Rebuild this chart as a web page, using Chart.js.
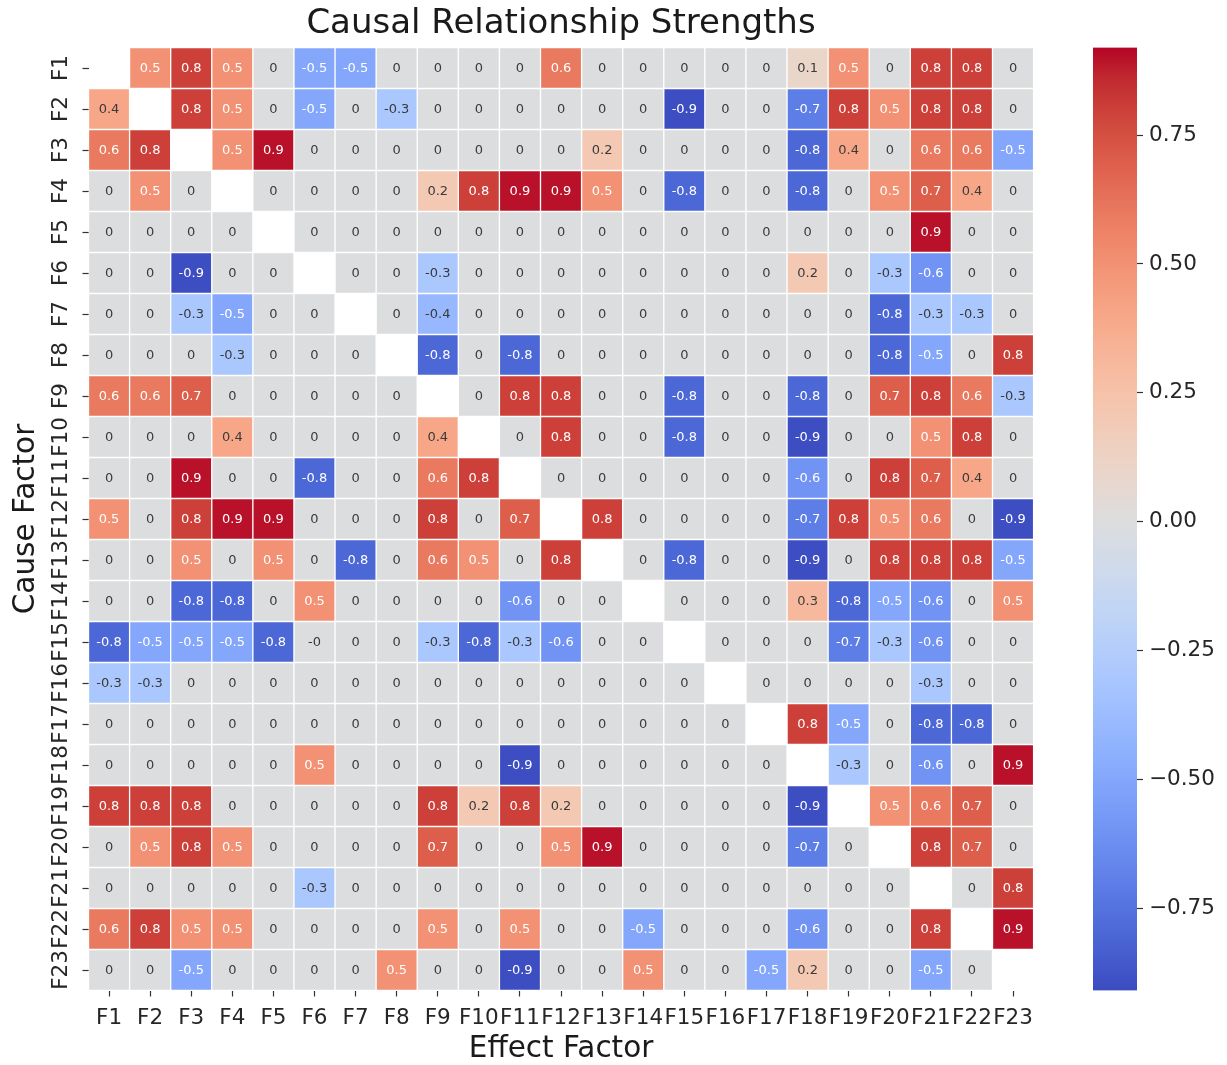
<!DOCTYPE html>
<html>
<head>
<meta charset="utf-8">
<title>Causal Relationship Strengths</title>
<script src="https://cdn.jsdelivr.net/npm/chart.js@4.4.1/dist/chart.umd.min.js"></script>
<style>
  html, body { margin: 0; padding: 0; background: #ffffff; }
  #wrap { position: relative; width: 1227px; height: 1065px; overflow: hidden; background: #ffffff; }
  #heat { position: absolute; left: 0; top: 0; }
  #scaleBar { position: absolute; left: 1085px; top: 0; }
</style>
</head>
<body>
<div id="wrap">
  <canvas id="heat" width="1122" height="1065"></canvas>
  <canvas id="scaleBar" width="142" height="1065"></canvas>
</div>
<script>
// Factor names used for both the cause (rows) and effect (columns) axes
const factors = ['F1','F2','F3','F4','F5','F6','F7','F8','F9','F10','F11','F12',
                 'F13','F14','F15','F16','F17','F18','F19','F20','F21','F22','F23'];

// Causal strength of each cause factor on every effect factor (null = self)
const causeF1  = [null, 0.5, 0.8, 0.5, 0, -0.5, -0.5, 0, 0, 0, 0, 0.6, 0, 0, 0, 0, 0, 0.1, 0.5, 0, 0.8, 0.8, 0];
const causeF2  = [0.4, null, 0.8, 0.5, 0, -0.5, 0, -0.3, 0, 0, 0, 0, 0, 0, -0.9, 0, 0, -0.7, 0.8, 0.5, 0.8, 0.8, 0];
const causeF3  = [0.6, 0.8, null, 0.5, 0.9, 0, 0, 0, 0, 0, 0, 0, 0.2, 0, 0, 0, 0, -0.8, 0.4, 0, 0.6, 0.6, -0.5];
const causeF4  = [0, 0.5, 0, null, 0, 0, 0, 0, 0.2, 0.8, 0.9, 0.9, 0.5, 0, -0.8, 0, 0, -0.8, 0, 0.5, 0.7, 0.4, 0];
const causeF5  = [0, 0, 0, 0, null, 0, 0, 0, 0, 0, 0, 0, 0, 0, 0, 0, 0, 0, 0, 0, 0.9, 0, 0];
const causeF6  = [0, 0, -0.9, 0, 0, null, 0, 0, -0.3, 0, 0, 0, 0, 0, 0, 0, 0, 0.2, 0, -0.3, -0.6, 0, 0];
const causeF7  = [0, 0, -0.3, -0.5, 0, 0, null, 0, -0.4, 0, 0, 0, 0, 0, 0, 0, 0, 0, 0, -0.8, -0.3, -0.3, 0];
const causeF8  = [0, 0, 0, -0.3, 0, 0, 0, null, -0.8, 0, -0.8, 0, 0, 0, 0, 0, 0, 0, 0, -0.8, -0.5, 0, 0.8];
const causeF9  = [0.6, 0.6, 0.7, 0, 0, 0, 0, 0, null, 0, 0.8, 0.8, 0, 0, -0.8, 0, 0, -0.8, 0, 0.7, 0.8, 0.6, -0.3];
const causeF10 = [0, 0, 0, 0.4, 0, 0, 0, 0, 0.4, null, 0, 0.8, 0, 0, -0.8, 0, 0, -0.9, 0, 0, 0.5, 0.8, 0];
const causeF11 = [0, 0, 0.9, 0, 0, -0.8, 0, 0, 0.6, 0.8, null, 0, 0, 0, 0, 0, 0, -0.6, 0, 0.8, 0.7, 0.4, 0];
const causeF12 = [0.5, 0, 0.8, 0.9, 0.9, 0, 0, 0, 0.8, 0, 0.7, null, 0.8, 0, 0, 0, 0, -0.7, 0.8, 0.5, 0.6, 0, -0.9];
const causeF13 = [0, 0, 0.5, 0, 0.5, 0, -0.8, 0, 0.6, 0.5, 0, 0.8, null, 0, -0.8, 0, 0, -0.9, 0, 0.8, 0.8, 0.8, -0.5];
const causeF14 = [0, 0, -0.8, -0.8, 0, 0.5, 0, 0, 0, 0, -0.6, 0, 0, null, 0, 0, 0, 0.3, -0.8, -0.5, -0.6, 0, 0.5];
const causeF15 = [-0.8, -0.5, -0.5, -0.5, -0.8, -0, 0, 0, -0.3, -0.8, -0.3, -0.6, 0, 0, null, 0, 0, 0, -0.7, -0.3, -0.6, 0, 0];
const causeF16 = [-0.3, -0.3, 0, 0, 0, 0, 0, 0, 0, 0, 0, 0, 0, 0, 0, null, 0, 0, 0, 0, -0.3, 0, 0];
const causeF17 = [0, 0, 0, 0, 0, 0, 0, 0, 0, 0, 0, 0, 0, 0, 0, 0, null, 0.8, -0.5, 0, -0.8, -0.8, 0];
const causeF18 = [0, 0, 0, 0, 0, 0.5, 0, 0, 0, 0, -0.9, 0, 0, 0, 0, 0, 0, null, -0.3, 0, -0.6, 0, 0.9];
const causeF19 = [0.8, 0.8, 0.8, 0, 0, 0, 0, 0, 0.8, 0.2, 0.8, 0.2, 0, 0, 0, 0, 0, -0.9, null, 0.5, 0.6, 0.7, 0];
const causeF20 = [0, 0.5, 0.8, 0.5, 0, 0, 0, 0, 0.7, 0, 0, 0.5, 0.9, 0, 0, 0, 0, -0.7, 0, null, 0.8, 0.7, 0];
const causeF21 = [0, 0, 0, 0, 0, -0.3, 0, 0, 0, 0, 0, 0, 0, 0, 0, 0, 0, 0, 0, 0, null, 0, 0.8];
const causeF22 = [0.6, 0.8, 0.5, 0.5, 0, 0, 0, 0, 0.5, 0, 0.5, 0, 0, -0.5, 0, 0, 0, -0.6, 0, 0, 0.8, null, 0.9];
const causeF23 = [0, 0, -0.5, 0, 0, 0, 0, 0.5, 0, 0, -0.9, 0, 0, 0.5, 0, 0, -0.5, 0.2, 0, 0, -0.5, 0, null];

const strengthRows = [causeF1, causeF2, causeF3, causeF4, causeF5, causeF6, causeF7, causeF8,
  causeF9, causeF10, causeF11, causeF12, causeF13, causeF14, causeF15, causeF16, causeF17,
  causeF18, causeF19, causeF20, causeF21, causeF22, causeF23];

// Colour scale limits and colour-bar tick values
const colorMin = -0.91;
const colorMax = 0.92;
const colorbarTicks = [-0.75, -0.5, -0.25, 0, 0.25, 0.5, 0.75];

// Diverging cool-warm palette, evenly spaced from blue (low) to red (high)
const coolwarm = [
  [59,76,192],[68,90,204],[77,104,215],[87,117,225],[98,130,234],[108,142,241],
  [119,154,247],[130,165,251],[141,176,254],[152,185,255],[163,194,255],[174,201,253],
  [184,208,249],[194,213,244],[204,217,238],[213,219,230],[221,221,221],[229,216,209],
  [236,211,197],[241,204,185],[245,196,173],[247,187,160],[247,177,148],[247,166,135],
  [244,154,123],[241,141,111],[236,127,99],[229,112,88],[222,96,77],[213,80,66],
  [203,62,56],[192,40,47],[180,4,38]
];

function rgbFor(v) {
  let t = (v - colorMin) / (colorMax - colorMin);
  t = Math.max(0, Math.min(1, t));
  const pos = t * (coolwarm.length - 1);
  const i = Math.min(Math.floor(pos), coolwarm.length - 2);
  const f = pos - i;
  const a = coolwarm[i], b = coolwarm[i + 1];
  return [0, 1, 2].map(k => Math.round(a[k] + (b[k] - a[k]) * f));
}
function colorFor(v) {
  const c = rgbFor(v);
  return `rgb(${c[0]},${c[1]},${c[2]})`;
}
// Light text on dark cells, dark text on light cells
function textColorFor(v) {
  const lin = rgbFor(v).map(c => {
    c /= 255;
    return c <= 0.03928 ? c / 12.92 : Math.pow((c + 0.055) / 1.055, 2.4);
  });
  const lum = 0.2126 * lin[0] + 0.7152 * lin[1] + 0.0722 * lin[2];
  return lum > 0.43 ? '#3a3a3a' : '#ffffff';
}
function formatCell(v) {
  return Object.is(v, -0) ? '-0' : String(v);
}

Chart.defaults.font.family = '"DejaVu Sans", "Liberation Sans", sans-serif';
Chart.defaults.color = '#262626';

// Writes each cell's strength on top of its rectangle
const cellLabels = {
  id: 'cellLabels',
  afterDatasetsDraw(chart) {
    const ctx = chart.ctx;
    ctx.save();
    ctx.font = '13px "DejaVu Sans", sans-serif';
    ctx.textAlign = 'center';
    ctx.textBaseline = 'middle';
    chart.data.datasets.forEach((ds, r) => {
      const meta = chart.getDatasetMeta(r);
      meta.data.forEach((el, c) => {
        const v = strengthRows[r][c];
        if (v === null || v === undefined) return;
        const p = el.getCenterPoint();
        ctx.fillStyle = textColorFor(v);
        ctx.fillText(formatCell(v), p.x, p.y + 0.5);
      });
    });
    ctx.restore();
  }
};

// One floating-bar dataset per cause row; each bar spans that row's band
const heatDatasets = strengthRows.map((row, r) => ({
  label: factors[r],
  data: row.map(v => (v === null ? null : [r, r + 1])),
  backgroundColor: row.map(v => (v === null ? 'rgba(0,0,0,0)' : colorFor(v))),
  borderColor: '#ffffff',
  borderWidth: 1,
  borderSkipped: false,
  barPercentage: 1,
  categoryPercentage: 1,
  grouped: false
}));

new Chart(document.getElementById('heat'), {
  type: 'bar',
  data: { labels: factors, datasets: heatDatasets },
  options: {
    responsive: false,
    animation: false,
    events: [],
    layout: { padding: 0 },
    plugins: {
      legend: { display: false },
      tooltip: { enabled: false },
      title: {
        display: true,
        text: 'Causal Relationship Strengths',
        color: '#1a1a1a',
        font: { size: 34, weight: 'normal' },
        padding: { top: 3.5, bottom: 3.2 }
      }
    },
    scales: {
      x: {
        type: 'category',
        offset: true,
        afterFit: s => { s.height = 74.5; },
        ticks: { autoSkip: false, minRotation: 0, maxRotation: 0, padding: 9, font: { size: 21.5 }, color: '#262626' },
        grid: { display: true, offset: false, drawOnChartArea: false, drawTicks: true, tickLength: 6, tickWidth: 1.2, color: '#333333' },
        border: { display: false },
        title: { display: true, text: 'Effect Factor', color: '#1a1a1a', font: { size: 29.5, lineHeight: 1 }, padding: { top: 0, bottom: 0.5 } }
      },
      y: {
        type: 'linear',
        min: 0,
        max: factors.length,
        reverse: true,
        afterBuildTicks: s => { s.ticks = factors.map((_, i) => ({ value: i + 0.5 })); },
        afterFit: s => { s.width = 88.5; },
        ticks: { autoSkip: false, minRotation: 90, maxRotation: 90, crossAlign: 'center', padding: 1,
                 font: { size: 21.5 }, color: '#262626', callback: (v, i) => factors[i] },
        grid: { display: true, drawOnChartArea: false, drawTicks: true, tickLength: 6, tickWidth: 1.2, color: '#333333' },
        border: { display: false },
        title: { display: true, text: 'Cause Factor', color: '#1a1a1a', font: { size: 29.5, lineHeight: 1 }, padding: { top: 12, bottom: 0 } }
      },
      // empty right-hand margin that keeps the plot centred under the title
      yMargin: {
        type: 'linear',
        axis: 'y',
        position: 'right',
        afterFit: s => { s.width = 88.4; },
        ticks: { display: false },
        grid: { display: false },
        border: { display: false }
      }
    }
  },
  plugins: [cellLabels]
});

// Colour bar: a single floating bar over the full colour range, filled with the palette
function formatBarTick(v) {
  const s = Math.abs(v).toFixed(2);
  return v < 0 ? '\u2212' + s : s;
}

new Chart(document.getElementById('scaleBar'), {
  type: 'bar',
  data: {
    labels: [''],
    datasets: [{
      data: [[colorMin, colorMax]],
      backgroundColor(context) {
        const area = context.chart.chartArea;
        if (!area) return 'rgb(221,221,221)';
        const g = context.chart.ctx.createLinearGradient(0, area.bottom, 0, area.top);
        coolwarm.forEach((c, i) => g.addColorStop(i / (coolwarm.length - 1), `rgb(${c[0]},${c[1]},${c[2]})`));
        return g;
      },
      borderWidth: 0,
      barPercentage: 1,
      categoryPercentage: 1
    }]
  },
  options: {
    responsive: false,
    animation: false,
    events: [],
    layout: { padding: { left: 8, right: 0, top: 47.5, bottom: 74.5 } },
    plugins: { legend: { display: false }, tooltip: { enabled: false }, title: { display: false } },
    scales: {
      x: { type: 'category', display: false, offset: true },
      y: {
        type: 'linear',
        position: 'right',
        min: colorMin,
        max: colorMax,
        afterBuildTicks: s => { s.ticks = colorbarTicks.map(v => ({ value: v })); },
        afterFit: s => { s.width = 90; },
        ticks: { autoSkip: false, padding: 6, font: { size: 21.5 }, color: '#262626', callback: v => formatBarTick(v) },
        grid: { display: true, drawOnChartArea: false, drawTicks: true, tickLength: 6, tickWidth: 1.2, color: '#333333' },
        border: { display: false }
      }
    }
  }
});
</script>
</body>
</html>
